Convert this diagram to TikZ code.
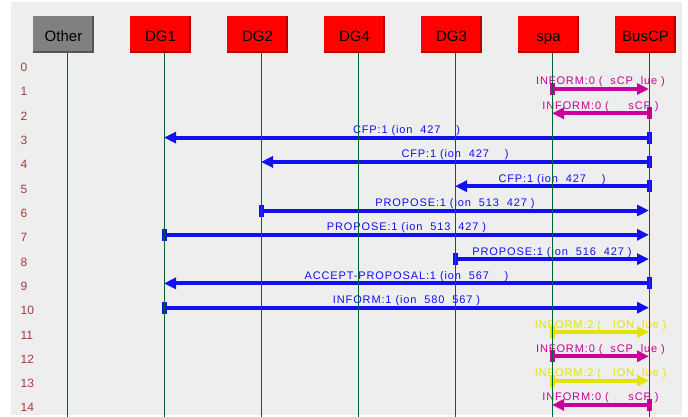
\documentclass[tikz,border=0pt]{standalone}
\usepackage{fontspec}
\setmainfont{Liberation Sans}
\newfontfamily\msgfont[LetterSpace=8]{Liberation Sans}
\usetikzlibrary{arrows.meta, calc}
\definecolor{mybg}{RGB}{238,238,238}
\definecolor{myred}{RGB}{255,0,0}
\definecolor{mydarkred}{RGB}{185,0,0}
\definecolor{mygray}{RGB}{128,128,128}
\definecolor{mydarkgray}{RGB}{85,85,85}
\definecolor{mylife}{RGB}{0,100,50}
\definecolor{mynum}{RGB}{165,60,60}
\definecolor{myblue}{RGB}{16,16,240}
\definecolor{mymagenta}{RGB}{204,0,153}
\definecolor{myyellow}{RGB}{228,228,0}
\tikzstyle{agent} = [draw=none, outer sep=0, inner sep=0,
    minimum width=61, minimum height=37, text height=15, text depth=0,
    fill=myred, text=black, font=\fontsize{15}{17}\selectfont]
\tikzstyle{lifeline} = [mylife, line width=1]
\tikzstyle{rownum} = [anchor=base west, inner sep=0, text=mynum,
    font=\fontsize{12}{14}\selectfont]
\tikzstyle{msg} = [line width=4, shorten <=-2.5pt,
    {Rectangle[length=5pt,width=12pt]}-{Triangle[length=12pt,width=11pt]}]
\tikzstyle{msglabel} = [midway, anchor=base, yshift=4pt, inner sep=0,
    font=\msgfont\fontsize{11}{13}\selectfont]

\begin{document}
\begin{tikzpicture}[x=1pt, y=-1pt]

    \useasboundingbox (0,0) rectangle (688,417);
    \fill[mybg] (11,2) rectangle (682,415);

%%% AGENTS
    \node[agent, fill=mygray] (other) at (63.5,34.5) {Other};
    \node[agent] (dg1) at (160.5,34.5) {DG1};
    \node[agent] (dg2) at (257.5,34.5) {DG2};
    \node[agent] (dg4) at (354.5,34.5) {DG4};
    \node[agent] (dg3) at (451.5,34.5) {DG3};
    \node[agent] (spa) at (548.5,34.5) {spa};
    \node[agent] (busCP) at (645.5,34.5) {BusCP};

    % darker edge on the right and at the bottom
    \draw[mydarkgray,line width=2] ([xshift=-1pt]other.north east) -- ([shift={(-1pt,1pt)}]other.south east) -- ([yshift=1pt]other.south west);
    \draw[mydarkred,line width=2] ([xshift=-1pt]dg1.north east) -- ([shift={(-1pt,1pt)}]dg1.south east) -- ([yshift=1pt]dg1.south west);
    \draw[mydarkred,line width=2] ([xshift=-1pt]dg2.north east) -- ([shift={(-1pt,1pt)}]dg2.south east) -- ([yshift=1pt]dg2.south west);
    \draw[mydarkred,line width=2] ([xshift=-1pt]dg4.north east) -- ([shift={(-1pt,1pt)}]dg4.south east) -- ([yshift=1pt]dg4.south west);
    \draw[mydarkred,line width=2] ([xshift=-1pt]dg3.north east) -- ([shift={(-1pt,1pt)}]dg3.south east) -- ([yshift=1pt]dg3.south west);
    \draw[mydarkred,line width=2] ([xshift=-1pt]spa.north east) -- ([shift={(-1pt,1pt)}]spa.south east) -- ([yshift=1pt]spa.south west);
    \draw[mydarkred,line width=2] ([xshift=-1pt]busCP.north east) -- ([shift={(-1pt,1pt)}]busCP.south east) -- ([yshift=1pt]busCP.south west);

    % top ends of the lifelines
    \coordinate (otherL) at ([xshift=3.5pt]other.south);
    \coordinate (dg1L) at ([xshift=3.5pt]dg1.south);
    \coordinate (dg2L) at ([xshift=3.5pt]dg2.south);
    \coordinate (dg4L) at ([xshift=3.5pt]dg4.south);
    \coordinate (dg3L) at ([xshift=3.5pt]dg3.south);
    \coordinate (spaL) at ([xshift=3.5pt]spa.south);
    \coordinate (busL) at ([xshift=3.5pt]busCP.south);
    \coordinate (bottom) at (0,417);

%%% ROW NUMBERS
    \node[rownum] (n0) at (20.5,71.7) {0};
    \node[rownum] (n1) at (20.5,96) {1};
    \node[rownum] (n2) at (20.5,120.3) {2};
    \node[rownum] (n3) at (20.5,144.6) {3};
    \node[rownum] (n4) at (20.5,168.9) {4};
    \node[rownum] (n5) at (20.5,193.2) {5};
    \node[rownum] (n6) at (20.5,217.5) {6};
    \node[rownum] (n7) at (20.5,241.8) {7};
    \node[rownum] (n8) at (20.5,266.1) {8};
    \node[rownum] (n9) at (20.5,290.4) {9};
    \node[rownum] (n10) at (20.5,314.7) {10};
    \node[rownum] (n11) at (20.5,339) {11};
    \node[rownum] (n12) at (20.5,363.3) {12};
    \node[rownum] (n13) at (20.5,387.6) {13};
    \node[rownum] (n14) at (20.5,411.9) {14};

    % height of each message row
    \coordinate (r1) at (0,89);
    \coordinate (r2) at (0,113.3);
    \coordinate (r3) at (0,137.6);
    \coordinate (r4) at (0,161.9);
    \coordinate (r5) at (0,186.2);
    \coordinate (r6) at (0,210.5);
    \coordinate (r7) at (0,234.8);
    \coordinate (r8) at (0,259.1);
    \coordinate (r9) at (0,283.4);
    \coordinate (r10) at (0,307.7);
    \coordinate (r11) at (0,332);
    \coordinate (r12) at (0,356.3);
    \coordinate (r13) at (0,380.6);
    \coordinate (r14) at (0,404.9);

%%% MESSAGES
    \draw[msg,mymagenta] (spaL |- r1) -- node[msglabel] {INFORM:0 (~~sCP~~lue )} (busL |- r1);
    \draw[msg,mymagenta] (busL |- r2) -- node[msglabel] {INFORM:0 (~~~~~sCP )} (spaL |- r2);
    \draw[msg,myblue] (busL |- r3) -- node[msglabel] {CFP:1 (ion~~427~~~~)} (dg1L |- r3);
    \draw[msg,myblue] (busL |- r4) -- node[msglabel] {CFP:1 (ion~~427~~~~)} (dg2L |- r4);
    \draw[msg,myblue] (busL |- r5) -- node[msglabel] {CFP:1 (ion~~427~~~~)} (dg3L |- r5);
    \draw[msg,myblue] (dg2L |- r6) -- node[msglabel] {PROPOSE:1 (ion~~513~~427 )} (busL |- r6);
    \draw[msg,myblue] (dg1L |- r7) -- node[msglabel] {PROPOSE:1 (ion~~513~~427 )} (busL |- r7);
    \draw[msg,myblue] (dg3L |- r8) -- node[msglabel] {PROPOSE:1 (ion~~516~~427 )} (busL |- r8);
    \draw[msg,myblue] (busL |- r9) -- node[msglabel] {ACCEPT-PROPOSAL:1 (ion~~567~~~~)} (dg1L |- r9);
    \draw[msg,myblue] (dg1L |- r10) -- node[msglabel] {INFORM:1 (ion~~580~~567 )} (busL |- r10);
    \draw[msg,myyellow] (spaL |- r11) -- node[msglabel] {INFORM:2 (~~~ION~~lue )} (busL |- r11);
    \draw[msg,mymagenta] (spaL |- r12) -- node[msglabel] {INFORM:0 (~~sCP~~lue )} (busL |- r12);
    \draw[msg,myyellow] (spaL |- r13) -- node[msglabel] {INFORM:2 (~~~ION~~lue )} (busL |- r13);
    \draw[msg,mymagenta] (busL |- r14) -- node[msglabel] {INFORM:0 (~~~~~sCP )} (spaL |- r14);

%%% LIFELINES
    \draw[lifeline] (otherL) -- (otherL |- bottom);
    \draw[lifeline] (dg1L) -- (dg1L |- bottom);
    \draw[lifeline] (dg2L) -- (dg2L |- bottom);
    \draw[lifeline] (dg4L) -- (dg4L |- bottom);
    \draw[lifeline] (dg3L) -- (dg3L |- bottom);
    \draw[lifeline] (spaL) -- (spaL |- bottom);
    \draw[lifeline] (busL) -- (busL |- bottom);

\end{tikzpicture}
\end{document}
